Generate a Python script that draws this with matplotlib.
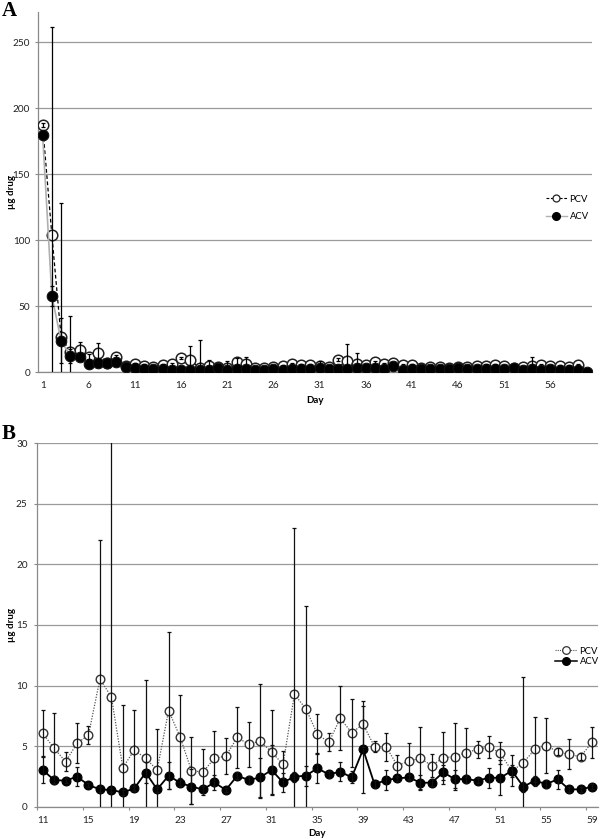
import numpy as np
import matplotlib
matplotlib.use("Agg")
import matplotlib.pyplot as plt
from matplotlib.lines import Line2D

plt.rcParams['font.family'] = ['Lato', 'DejaVu Sans']

nan = float('nan')

# ---------------- Panel B data (days 11-59) ----------------
days_b = list(range(11, 60))
pcv_b = [6.06, 4.82, 3.72, 5.23, 5.92, 10.54, 9.06, 3.22, 4.68, 3.99,
         3.03, 7.93, 5.78, 2.97, 2.86, 3.99, 4.18, 5.72, 5.15, 5.42,
         4.51, 3.50, 9.28, 8.07, 6.00, 5.31, 7.29, 6.11, 6.80, 4.95,
         4.95, 3.39, 3.77, 3.99, 3.39, 4.05, 4.13, 4.46, 4.73, 4.95,
         4.40, 2.95, 3.63, 4.73, 5.04, 4.54, 4.32, 4.13, 5.31]
pcv_b_err = [1.9, 2.9, 0.8, 1.65, 0.75, 11.45, 24.0, 5.2, 3.3, 6.5,
             3.4, 6.5, 3.4, 2.75, 1.9, 2.3, 1.46, 2.55, 1.87, 4.7,
             3.5, 1.12, 13.7, 8.5, 1.65, 0.75, 2.65, 2.8, 1.9, 0.47,
             1.15, 0.9, 1.5, 2.55, 0.93, 2.15, 2.75, 2.0, 0.7, 0.9,
             0.9, 0.5, 7.1, 2.65, 2.26, 0.3, 1.24, 0.3, 1.3]
acv_b = [3.03, 2.20, 2.15, 2.48, 1.79, 1.43, 1.38, 1.18, 1.51, 2.81,
         1.43, 2.56, 1.98, 1.65, 1.43, 2.00, 1.38, 2.56, 2.20, 2.42,
         3.03, 2.00, 2.48, 2.56, 3.17, 2.67, 2.89, 2.42, 4.73, 1.84,
         2.20, 2.34, 2.42, 1.98, 1.98, 2.84, 2.28, 2.28, 2.15, 2.39,
         2.39, 2.97, 1.65, 2.15, 1.87, 2.26, 1.43, 1.43, 1.65]
acv_b_err = [1.1, 0.3, 0.2, 0.77, 0.2, 0.2, 0.2, 0.2, 0.2, 0.85,
             0.2, 1.13, 0.3, 1.43, 0.3, 0.62, 0.2, 0.3, 0.35, 1.6,
             2.07, 0.82, 0.4, 0.83, 1.24, 0.3, 0.8, 0.5, 3.6, 0.3,
             0.83, 0.2, 0.2, 0.6, 0.3, 0.6, 0.77, 0.3, 0.2, 0.82,
             1.43, 1.3, 0.4, 0.4, 0.3, 0.8, 0.2, 0.2, 0.2]

# ---------------- Panel A data (days 1-60) ----------------
days_a = list(range(1, 61))
pcv_a_first = [187, 104, 26.5, 15.4, 16.7, 11.6, 14.7, 7.0, 11.1, 4.8]
acv_a_first = [180, 57.7, 23.8, 12.2, 11.1, 6.1, 7.1, 6.6, 7.8, 3.8]
pcv_a_last = [nan]
acv_a_last = [0.3]
pcv_a = pcv_a_first + pcv_b + pcv_a_last
acv_a = acv_a_first + acv_b + acv_a_last
pcv_a_err = [1.5, 158, 102, 27, 6, 2, 7.5, 2, 2, 1,
             1, 1, 1, 1, 1, 1, 11, 21, 4.4, 1,
             5.6, 3, 5.8, 1, 1, 1, 1, 1, 1, 1,
             4.1, 1, 1.3, 13.2, 8.7, 1, 1, 1, 1, 1,
             1, 1, 1, 1, 1, 1, 1, 1, 1, 1,
             1, 1, 1, 6.9, 1, 1, 1, 1, 1, nan]
acv_a_err = [2, 7.6, 17, 5, 2, 2, 2, 2, 2, 0.5,
             0.5, 0.5, 0.5, 0.5, 0.5, 0.5, 0.5, 0.5, 0.5, 0.5,
             0.5, 0.5, 0.5, 0.5, 0.5, 0.5, 0.5, 0.5, 0.5, 0.5,
             0.5, 0.5, 0.5, 0.5, 0.5, 0.5, 0.5, 0.5, 0.5, 0.5,
             0.5, 0.5, 0.5, 0.5, 0.5, 0.5, 0.5, 0.5, 0.5, 0.5,
             0.5, 0.5, 0.5, 0.5, 0.5, 0.5, 0.5, 0.5, 0.5, 0.5]

a_yticks = [0, 50, 100, 150, 200, 250]
a_xticks = list(range(1, 61, 5))
b_yticks = [0, 5, 10, 15, 20, 25, 30]
b_xticks = list(range(11, 60, 4))

GRID = '#9a9a9a'
SPINE = '#8a8a8a'

fig = plt.figure(figsize=(6.0, 8.39), dpi=100)

def style_axes(ax, yticks, xticks):
    for s in ['top', 'right']:
        ax.spines[s].set_visible(False)
    for s in ['left', 'bottom']:
        ax.spines[s].set_color(SPINE)
        ax.spines[s].set_linewidth(0.9)
    ax.set_yticks(yticks)
    ax.set_xticks(xticks)
    ax.yaxis.grid(True, color=GRID, linewidth=0.9)
    ax.set_axisbelow(True)
    ax.tick_params(axis='y', length=2.2, width=0.8, color=SPINE, pad=3.5,
                   labelsize=7.2, labelcolor='#222222')
    ax.tick_params(axis='x', length=0, pad=6.5, labelsize=7.2, labelcolor='#222222')

# ---------------- Panel A ----------------
axA = fig.add_axes([38/600, 1-372/839, (592-38)/600, (372-12)/839])
axA.plot(days_a, pcv_a, linestyle=(0, (3, 2)), color='black', linewidth=0.9,
         marker='o', markersize=7.6, markerfacecolor='white',
         markeredgecolor='#222222', markeredgewidth=1.1, zorder=3, label='PCV')
axA.plot(days_a, acv_a, linestyle='-', color='#b0b0b0', linewidth=1.2,
         marker='o', markersize=7.6, markerfacecolor='black',
         markeredgecolor='#111111', markeredgewidth=0.8, zorder=4, label='ACV')
axA.errorbar(days_a, pcv_a, yerr=pcv_a_err, fmt='none', ecolor='black',
             elinewidth=0.9, capsize=1.7, capthick=0.9, zorder=5)
axA.errorbar(days_a, acv_a, yerr=acv_a_err, fmt='none', ecolor='black',
             elinewidth=0.9, capsize=1.7, capthick=0.9, zorder=5)
axA.set_xlim(0.5, 60.5)
axA.set_ylim(0, 273)
style_axes(axA, a_yticks, a_xticks)

hA = [Line2D([], [], linestyle=(0, (2.5, 1.5)), color='black', linewidth=0.8,
             marker='o', markersize=5, markerfacecolor='white',
             markeredgecolor='#222222', markeredgewidth=0.9),
      Line2D([], [], linestyle='-', color='#b0b0b0', linewidth=1.0,
             marker='o', markersize=5.5, markerfacecolor='black',
             markeredgecolor='black')]
fig.legend(hA, ['PCV', 'ACV'], loc='center left',
           bbox_to_anchor=(546/600, 1-208/839), frameon=False, fontsize=6.8,
           handlelength=2.2, handletextpad=0.3, labelspacing=0.95,
           borderaxespad=0, borderpad=0)

fig.text(2/600, 1-1/839, 'A', fontsize=15, fontweight='bold',
         family='Liberation Serif', ha='left', va='top')
fig.text(11/600, 1-192/839, 'µg drug', rotation=90, fontsize=7,
         fontweight='bold', ha='center', va='center')
fig.text(315/600, 1-400/839, 'Day', fontsize=7, fontweight='bold',
         ha='center', va='center')

# ---------------- Panel B ----------------
axB = fig.add_axes([37/600, 1-806.7/839, (597.7-37)/600, (806.7-443.3)/839])
axB.plot(days_b, pcv_b, linestyle=(0, (1, 1.2)), color='#555555', linewidth=0.9,
         marker='o', markersize=6.2, markerfacecolor='white',
         markeredgecolor='#333333', markeredgewidth=1.0, zorder=3, label='PCV')
axB.plot(days_b, acv_b, linestyle='-', color='black', linewidth=1.3,
         marker='o', markersize=6.4, markerfacecolor='black',
         markeredgecolor='black', markeredgewidth=0.8, zorder=4, label='ACV')
axB.errorbar(days_b, pcv_b, yerr=pcv_b_err, fmt='none', ecolor='#111111',
             elinewidth=0.9, capsize=1.7, capthick=0.9, zorder=5)
axB.errorbar(days_b, acv_b, yerr=acv_b_err, fmt='none', ecolor='#111111',
             elinewidth=0.9, capsize=1.7, capthick=0.9, zorder=5)
axB.set_xlim(10.5, 59.5)
axB.set_ylim(0, 30)
style_axes(axB, b_yticks, b_xticks)
axB.yaxis.set_tick_params(pad=4.5)
axB.set_xticks([x - 0.5 for x in b_xticks], minor=True)
axB.tick_params(axis='x', which='minor', length=2.2, width=0.8, color=SPINE)

hB = [Line2D([], [], linestyle=(0, (1, 1)), color='#555555', linewidth=0.8,
             marker='o', markersize=5.5, markerfacecolor='white',
             markeredgecolor='#333333', markeredgewidth=0.9),
      Line2D([], [], linestyle='-', color='black', linewidth=1.1,
             marker='o', markersize=5.5, markerfacecolor='black',
             markeredgecolor='black')]
fig.legend(hB, ['PCV', 'ACV'], loc='center left',
           bbox_to_anchor=(555/600, 1-656.5/839), frameon=False, fontsize=6.8,
           handlelength=2.3, handletextpad=0.3, labelspacing=0.2,
           borderaxespad=0, borderpad=0)

fig.text(2/600, 1-424/839, 'B', fontsize=15, fontweight='bold',
         family='Liberation Serif', ha='left', va='top')
fig.text(11/600, 1-625/839, 'µg drug', rotation=90, fontsize=7,
         fontweight='bold', ha='center', va='center')
fig.text(317/600, 1-833/839, 'Day', fontsize=7, fontweight='bold',
         ha='center', va='center')

fig.savefig('out.png', dpi=100)
